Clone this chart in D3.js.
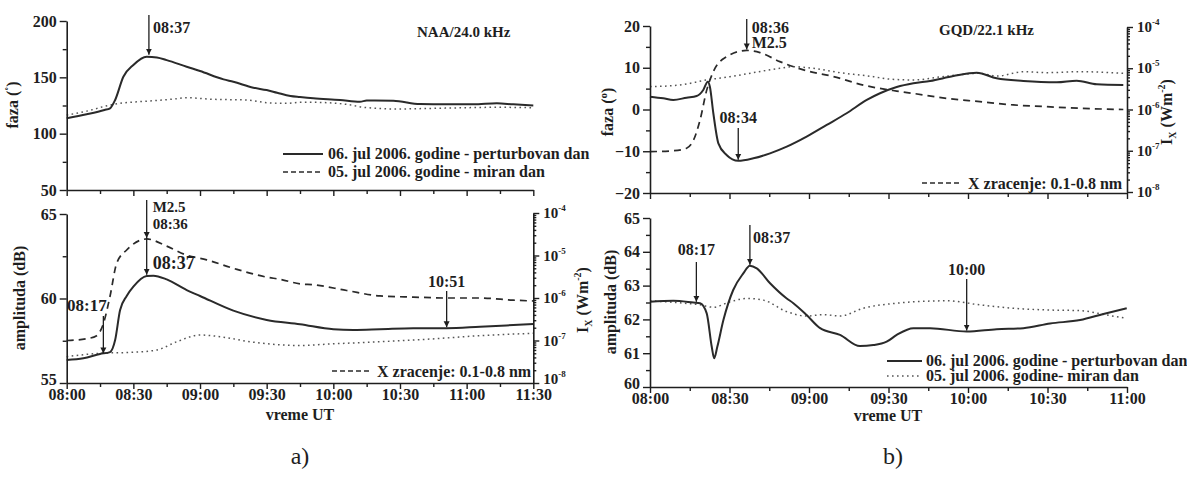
<!DOCTYPE html>
<html><head><meta charset="utf-8">
<script src="https://cdn.jsdelivr.net/npm/d3@7"></script>
<style>
body{margin:0;background:#fff;}
svg text{font-family:"Liberation Serif","Times New Roman",serif;font-weight:bold;fill:#1e1e1e;}
svg text.plain{font-weight:normal;}
</style></head><body>
<svg id="c" width="1187" height="479" xmlns="http://www.w3.org/2000/svg"></svg>
<script>
// ---------------- DATA (minutes after 08:00 UT, value) ----------------
const tickLabelsA = ["08:00","08:30","09:00","09:30","10:00","10:30","11:00","11:30"];
const tickLabelsB = ["08:00","08:30","09:00","09:30","10:00","10:30","11:00"];
const logTickExponents = [-8,-7,-6,-5,-4];

// a) NAA/24.0 kHz phase (deg)
const naaPhasePert = [[0,113.6],[9,117.2],[17,121],[19.5,122.5],[21.8,129.9],[25.5,150.5],[30,161],[36,168.3],[40.6,167.7],[45,165.3],[54,159.4],[60,155.6],[70.6,148.2],[75,146.1],[84,140.8],[90,138.7],[94.7,136.3],[100.7,133.4],[105,132.5],[111,131.4],[123,129.9],[132,128.4],[135,129.4],[147,129.2],[159,126.3],[171,126],[183,126],[193.6,126.9],[201,126],[210,125.1]];
const naaPhaseQuiet = [[0,116.5],[9,120],[19.5,125.4],[24,126.9],[37.5,129],[48,130.7],[54,131.9],[66,130.5],[81,129.9],[90,127.5],[99,126.9],[105,127.8],[111,127.8],[126,126],[133.6,123.4],[148.6,121.9],[163.6,122.4],[178.6,123],[193.6,123.4],[210,123]];
// a) NAA amplitude (dB)
const naaAmpPert = [[0,56.36],[7.5,56.46],[15,56.72],[19.5,56.83],[21.8,57.54],[24,59.3],[27,60.15],[30,60.7],[36,61.33],[39,61.35],[45,61.13],[54,60.5],[60,60.15],[75,59.28],[90,58.73],[105,58.48],[120,58.18],[129,58.14],[141,58.18],[156,58.24],[171,58.24],[186,58.33],[201,58.43],[210,58.49]];
const naaAmpQuiet = [[0,56.56],[15,56.76],[30,56.82],[40.5,56.95],[49.5,57.44],[60,57.84],[69,57.74],[82.6,57.44],[97.5,57.25],[105,57.22],[118.6,57.31],[141,57.44],[163.6,57.6],[186,57.8],[210,57.94]];
// a) X-ray flux 0.1-0.8 nm (W m^-2)
const xrayA = [[0,1.0e-7],[9,1.1e-7],[13.5,1.3e-7],[16.5,2.5e-7],[19.5,1.1e-6],[22.5,6.6e-6],[27,1.35e-5],[34.5,2.4e-5],[36,2.45e-5],[45,1.66e-5],[54,1.02e-5],[63,7.9e-6],[75,5.0e-6],[90,3.1e-6],[96,2.75e-6],[105,2.15e-6],[111,2.05e-6],[126,1.5e-6],[141,1.12e-6],[156,1.05e-6],[171,1.0e-6],[186,1.0e-6],[201,8.9e-7],[210,8.5e-7]];

// b) GQD/22.1 kHz phase (deg)
const gqdPhasePert = [[0,3.07],[5,2.68],[8.8,2.28],[13.8,2.83],[17.6,3.23],[20.1,4.67],[21.8,6.67],[22.6,5.47],[23.9,-0.9],[25.8,-8.1],[28.9,-10.9],[33.3,-12.3],[39,-11.7],[45.3,-10.5],[51.6,-8.9],[59.1,-6.5],[66.7,-3.7],[74.2,-0.9],[81.8,2.3],[86.8,3.9],[93.1,5.4],[99.4,6.3],[105.7,6.83],[114.5,8.0],[123.3,8.8],[130.8,7.47],[140.9,6.83],[153.5,6.5],[161,6.9],[168.6,6.03],[178.6,5.87]];
const gqdPhaseQuiet = [[0,5.47],[11.3,5.87],[21.4,7.07],[30.2,7.86],[39,8.82],[49,9.86],[54,10.25],[61.6,9.86],[71.7,8.82],[84.3,7.86],[90,7.3],[99.4,7.07],[112,8.0],[124.5,8.67],[130.8,8.0],[140.9,9.05],[149.7,8.82],[162.3,9.05],[178.6,8.67]];
// b) X-ray flux
const xrayB = [[0,9.5e-8],[8.8,1.0e-7],[13.8,1.15e-7],[16.4,1.8e-7],[18.9,5.6e-7],[21.4,2.95e-6],[23.9,8.3e-6],[28.9,1.9e-5],[36.5,2.7e-5],[41.5,2.4e-5],[49,1.45e-5],[59.1,8.7e-6],[69.2,6.3e-6],[80.5,3.9e-6],[93.1,2.8e-6],[99.4,2.45e-6],[112,1.86e-6],[124.5,1.55e-6],[137.1,1.29e-6],[149.7,1.17e-6],[162.3,1.07e-6],[178.6,1.0e-6]];
// b) GQD amplitude (dB)
const gqdAmpPert = [[0,62.52],[8.8,62.55],[16.4,62.5],[18.9,62.48],[21.4,62.18],[23.3,61.19],[24.2,60.85],[25.4,61.19],[27.7,61.98],[31.4,62.87],[35.2,63.36],[37.7,63.59],[40.3,63.51],[45.3,63.07],[51.6,62.62],[54.1,62.48],[59.1,62.13],[64.2,61.74],[71.7,61.54],[79.2,61.21],[84.3,61.24],[89.3,61.34],[93.1,61.54],[99.4,61.74],[105.7,61.74],[119.5,61.64],[130.8,61.71],[140.9,61.74],[151,61.88],[162.3,61.98],[171.1,62.16],[179.9,62.33]];
const gqdAmpQuiet = [[0,62.55],[11.3,62.49],[18.9,62.43],[23.9,62.36],[30.2,62.52],[36.5,62.62],[42.8,62.57],[51.6,62.23],[59.1,62.1],[65.4,62.14],[71.7,62.1],[80.5,62.33],[93.1,62.48],[99.4,62.52],[112,62.55],[124.5,62.43],[137.1,62.33],[149.7,62.28],[162.3,62.26],[172.3,62.13],[179.9,62.03]];

const legendPert = "06. jul 2006. godine - perturbovan dan";
const legendQuietA = "05. jul 2006. godine - miran dan";
const legendQuietB = "05. jul 2006. godine- miran dan";
const legendXray = "X zracenje: 0.1-0.8 nm";

// ---------------- SCALES ----------------
const xA = d3.scaleLinear().domain([0,210]).range([66.7,533.3]);
const xB = d3.scaleLinear().domain([0,180]).range([650,1127]);
const yAtop = d3.scaleLinear().domain([50,200]).range([190,21]);
const yAbot = d3.scaleLinear().domain([55,65]).range([383,214]);
const yAlog = d3.scaleLog().domain([1e-8,1e-4]).range([383,213]);
const yBtop = d3.scaleLinear().domain([-20,20]).range([193,26]);
const yBlog = d3.scaleLog().domain([1e-8,1e-4]).range([192,27]);
const yBbot = d3.scaleLinear().domain([60,65]).range([387,218]);

const svg = d3.select("#c");
const INK = "#1e1e1e";

const defs = svg.append("defs");
defs.append("marker").attr("id","arr").attr("viewBox","0 0 10 10")
  .attr("refX",10).attr("refY",5).attr("markerWidth",6).attr("markerHeight",9)
  .attr("markerUnits","userSpaceOnUse").attr("orient","auto")
  .append("path").attr("d","M0,0 L10,5 L0,10 z").attr("fill",INK);

function styleAxis(g){
  g.selectAll("path.domain").attr("stroke",INK).attr("stroke-width",1.6);
  g.selectAll(".tick line").attr("stroke",INK).attr("stroke-width",1.4);
  g.selectAll("text").attr("font-family",null).attr("font-size",16).attr("fill",INK);
}

function xAxis(x, y0, n, labels, showLabels){
  const maj = d3.range(0, n*30+1, 30), min = d3.range(15, n*30, 30);
  const g = svg.append("g").attr("transform",`translate(0,${y0})`);
  g.call(d3.axisBottom(x).tickValues(maj).tickSize(6).tickSizeOuter(0)
    .tickFormat((d,i)=> showLabels ? labels[i] : ""));
  styleAxis(g);
  g.selectAll("text").attr("y",6);
  const g2 = svg.append("g").attr("transform",`translate(0,${y0})`);
  g2.call(d3.axisBottom(x).tickValues(min).tickSize(4).tickFormat(""));
  g2.select("path.domain").remove();
  styleAxis(g2);
}
function yAxis(y, x0, majors, minors, lowShift){
  const g = svg.append("g").attr("transform",`translate(${x0},0)`);
  g.call(d3.axisLeft(y).tickValues(majors).tickSize(7).tickPadding(3).tickSizeOuter(0).tickFormat(d3.format("d")));
  styleAxis(g);
  if(lowShift) g.selectAll(".tick text").filter(d=>d===majors[0]).attr("y",-lowShift);
  const g2 = svg.append("g").attr("transform",`translate(${x0},0)`);
  g2.call(d3.axisLeft(y).tickValues(minors).tickSize(4).tickFormat(""));
  g2.select("path.domain").remove();
  styleAxis(g2);
}
function logAxis(y, x0, lowShift){
  const majors = logTickExponents.map(e=>Math.pow(10,e));
  const minors = [];
  logTickExponents.slice(0,-1).forEach(e=>{ for(let k=2;k<10;k++) minors.push(k*Math.pow(10,e)); });
  const g = svg.append("g").attr("transform",`translate(${x0},0)`);
  g.call(d3.axisRight(y).tickValues(majors).tickSize(6).tickSizeOuter(0).tickFormat(""));
  styleAxis(g);
  const g2 = svg.append("g").attr("transform",`translate(${x0},0)`);
  g2.call(d3.axisRight(y).tickValues(minors).tickSize(3).tickFormat(""));
  g2.select("path.domain").remove();
  styleAxis(g2);
  logTickExponents.forEach((e,i)=>{
    const t = svg.append("text").attr("x",x0+10).attr("y",y(Math.pow(10,e))+5-(i===0?(lowShift||0):0)).attr("font-size",15);
    t.append("tspan").text("10");
    t.append("tspan").attr("dy",-7).attr("font-size",9).text("-"+(-e));
  });
}

function drawLine(data, x, y, style){
  const line = d3.line().x(d=>x(d[0])).y(d=>y(d[1])).curve(d3.curveMonotoneX);
  const p = svg.append("path").datum(data).attr("d",line).attr("fill","none");
  if(style==="solid") p.attr("stroke","#2a2a2a").attr("stroke-width",2);
  if(style==="dot") p.attr("stroke","#555").attr("stroke-width",1.5).attr("stroke-dasharray","1.6,3.4");
  if(style==="dash") p.attr("stroke","#2a2a2a").attr("stroke-width",1.7).attr("stroke-dasharray","7,5");
}
function arrow(x, y1, y2){
  svg.append("line").attr("x1",x).attr("x2",x).attr("y1",y1).attr("y2",y2)
    .attr("stroke",INK).attr("stroke-width",1.3).attr("marker-end","url(#arr)");
}
function label(x, y, txt, size, anchor){
  return svg.append("text").attr("x",x).attr("y",y).attr("font-size",size||16)
    .attr("text-anchor",anchor||"start").text(txt);
}
function legendLine(x1,x2,y,style){
  const l = svg.append("line").attr("x1",x1).attr("x2",x2).attr("y1",y).attr("y2",y);
  if(style==="solid") l.attr("stroke","#2a2a2a").attr("stroke-width",2);
  if(style==="dot") l.attr("stroke","#555").attr("stroke-width",1.5).attr("stroke-dasharray","1.6,3.4");
  if(style==="dash") l.attr("stroke","#2a2a2a").attr("stroke-width",1.6).attr("stroke-dasharray","5,3");
}
function vTitle(x, yc, build){
  const t = svg.append("text").attr("transform",`translate(${x},${yc}) rotate(-90)`)
    .attr("text-anchor","middle").attr("font-size",16);
  build(t);
}

// ================= PANEL a) =================
drawLine(naaPhaseQuiet, xA, yAtop, "dot");
drawLine(naaPhasePert, xA, yAtop, "solid");
xAxis(xA, 190, 7, tickLabelsA, false);
yAxis(yAtop, 66.7, [50,100,150,200], [75,125,175]);
vTitle(18, 105, t=>{ t.append("tspan").text("faza ("); t.append("tspan").attr("font-size",12).attr("dy",-4).text("˚"); t.append("tspan").attr("dy",4).text(")"); });
label(417, 37, "NAA/24.0 kHz", 15);
arrow(xA(37), 15, yAtop(168.3)-2);
label(xA(37)+4, 33, "08:37", 16);
legendLine(283, 323, 154, "solid");
label(328, 159, legendPert, 16);
legendLine(283, 323, 172, "dash");
label(328, 177, legendQuietA, 16);

drawLine(naaAmpQuiet, xA, yAbot, "dot");
drawLine(xrayA, xA, yAlog, "dash");
drawLine(naaAmpPert, xA, yAbot, "solid");
xAxis(xA, 383, 7, tickLabelsA, true);
yAxis(yAbot, 66.7, [55,60,65], [57.5,62.5], 4);
logAxis(yAlog, 533.3, 4);
vTitle(25, 298, t=>t.text("amplituda (dB)"));
vTitle(588, 300, t=>{ t.append("tspan").text("I"); t.append("tspan").attr("font-size",10).attr("dy",4).text("X");
  t.append("tspan").attr("dy",-4).text(" (Wm"); t.append("tspan").attr("font-size",10).attr("dy",-7).text("-2"); t.append("tspan").attr("dy",7).text(")"); });
arrow(xA(36), 200, yAlog(2.45e-5)-1);
arrow(xA(36), yAlog(2.45e-5)-1, yAbot(61.35)-1);
label(xA(36)+6, 212, "M2.5", 15);
label(xA(36)+6, 229, "08:36", 15);
label(xA(36)+6, 269, "08:37", 18);
arrow(xA(16.5), 316, yAbot(56.75));
label(67, 311, "08:17", 17);
arrow(xA(171), 291, yAbot(58.24)-1);
label(xA(171), 287, "10:51", 16, "middle");
legendLine(332, 370, 371, "dash");
label(377, 377, legendXray, 16);
label(300, 420, "vreme UT", 16, "middle");
svg.append("text").attr("class","plain").attr("x",300).attr("y",464).attr("text-anchor","middle").attr("font-size",24).text("a)");

// ================= PANEL b) =================
drawLine(gqdPhaseQuiet, xB, yBtop, "dot");
drawLine(xrayB, xB, yBlog, "dash");
drawLine(gqdPhasePert, xB, yBtop, "solid");
xAxis(xB, 193, 6, tickLabelsB, false);
yAxis(yBtop, 650, [-20,-10,0,10,20], [-15,-5,5,15]);
logAxis(yBlog, 1127);
vTitle(613, 112, t=>{ t.append("tspan").text("faza ("); t.append("tspan").attr("font-size",11).attr("dy",-6).text("o"); t.append("tspan").attr("dy",6).text(")"); });
vTitle(1172, 112, t=>{ t.append("tspan").text("I"); t.append("tspan").attr("font-size",10).attr("dy",4).text("X");
  t.append("tspan").attr("dy",-4).text(" (Wm"); t.append("tspan").attr("font-size",10).attr("dy",-7).text("-2"); t.append("tspan").attr("dy",7).text(")"); });
label(939, 35, "GQD/22.1 kHz", 15);
arrow(xB(36.5), 19, yBlog(2.7e-5)-1);
label(xB(36.5)+5, 33, "08:36", 16);
label(xB(36.5)+5, 48, "M2.5", 16);
arrow(xB(33.3), 128, yBtop(-12.3)-1);
label(xB(33.3), 123, "08:34", 16, "middle");
legendLine(922, 960, 183, "dash");
label(968, 189, legendXray, 16);

drawLine(gqdAmpQuiet, xB, yBbot, "dot");
drawLine(gqdAmpPert, xB, yBbot, "solid");
xAxis(xB, 387, 6, tickLabelsB, true);
yAxis(yBbot, 650, [60,61,62,63,64,65], d3.range(60.5,65,1), 4);
vTitle(616, 302, t=>t.text("amplituda (dB)"));
arrow(xB(17.5), 262, yBbot(62.49)-1);
label(xB(17.5), 255, "08:17", 16, "middle");
arrow(xB(37.7), 225, yBbot(63.59)-1);
label(753, 243, "08:37", 16);
arrow(xB(119.5), 279, yBbot(61.64)-1);
label(xB(119.5), 275, "10:00", 16, "middle");
legendLine(887, 922, 361, "solid");
label(926, 366, legendPert, 16);
legendLine(887, 922, 376, "dot");
label(926, 381, legendQuietB, 16);
label(888, 421, "vreme UT", 16, "middle");
svg.append("text").attr("class","plain").attr("x",893).attr("y",464).attr("text-anchor","middle").attr("font-size",24).text("b)");
</script>
</body></html>
